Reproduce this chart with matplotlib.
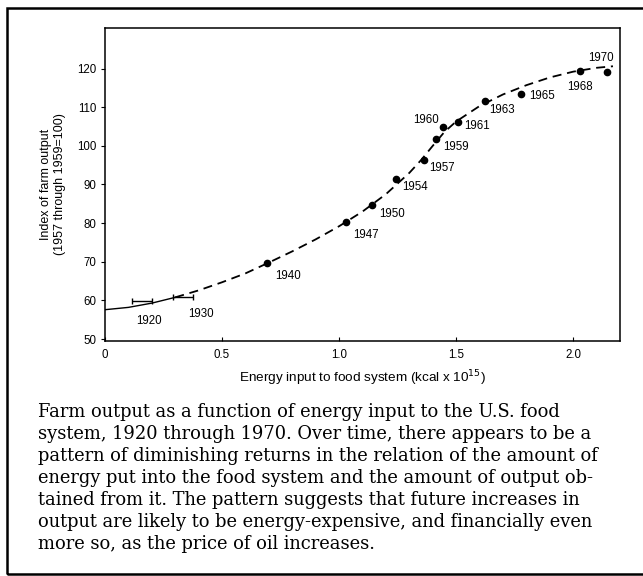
import matplotlib
matplotlib.use("Agg")
import matplotlib.pyplot as plt
from matplotlib.patches import Rectangle

# ---------------- data ----------------
years = ["1940", "1947", "1950", "1954", "1957", "1959", "1960", "1961",
         "1963", "1965", "1968", "1970"]
energy = [0.691, 1.03, 1.14, 1.245, 1.362, 1.413, 1.443, 1.51,
          1.624, 1.776, 2.03, 2.144]
output = [69.6, 80.4, 84.6, 91.4, 96.4, 101.8, 105.0, 106.3,
          111.5, 113.3, 119.3, 119.1]

range_years = ["1920", "1930"]
range_lo = [0.115, 0.289]
range_hi = [0.200, 0.375]
range_out = [59.8, 60.8]

curve_x = [0.0, 0.1, 0.2, 0.3, 0.4, 0.5, 0.6, 0.7, 0.8, 0.9, 1.0, 1.1, 1.2,
           1.3, 1.35, 1.4, 1.45, 1.5, 1.6, 1.7, 1.8, 1.9, 2.0, 2.1, 2.17]
curve_y = [57.6, 58.2, 59.3, 60.8, 62.6, 64.7, 67.0, 69.8, 72.7, 75.8, 79.2,
           83.0, 87.5, 93.0, 96.3, 100.0, 103.6, 106.3, 110.3, 113.3, 115.7,
           117.7, 119.2, 120.2, 120.6]
solid_end = 3  # curve drawn solid up to this point index

xticks = [0, 0.5, 1.0, 1.5, 2.0]
xticklabels = ["0", "0.5", "1.0", "1.5", "2.0"]
yticks = [50, 60, 70, 80, 90, 100, 110, 120]

caption = ["Farm output as a function of energy input to the U.S. food",
           "system, 1920 through 1970. Over time, there appears to be a",
           "pattern of diminishing returns in the relation of the amount of",
           "energy put into the food system and the amount of output ob-",
           "tained from it. The pattern suggests that future increases in",
           "output are likely to be energy-expensive, and financially even",
           "more so, as the price of oil increases."]

# label offsets in points (dx, dy, ha)
label_off = {
    "1940": (6, -9, "left"), "1947": (5, -10, "left"), "1950": (5, -6, "left"),
    "1954": (4, -6, "left"), "1957": (4, -6, "left"), "1959": (5, -6, "left"),
    "1960": (-3, 5, "right"), "1961": (4, -3, "left"), "1963": (3, -6, "left"),
    "1965": (6, -1, "left"), "1968": (0, -11, "center"), "1970": (-4, 10, "center"),
    "1920": (5, -14, "center"), "1930": (13, -12, "center"),
}

W, H = 643, 576
fig = plt.figure(figsize=(W / 100, H / 100), dpi=100)
sans = ["Liberation Sans", "DejaVu Sans"]
serif = ["DejaVu Serif", "Liberation Serif"]

# outer frame
fig.add_artist(Rectangle((7 / W, 1 - 574 / H), 660 / W, (574 - 8) / H,
                         transform=fig.transFigure, fill=False, lw=1.8,
                         edgecolor="black"))

ax = fig.add_axes([105 / W, 1 - 341 / H, (620 - 105) / W, (341 - 28) / H])
ax.set_xlim(0, 2.2)
ax.set_ylim(49.5, 130.5)

ax.plot(curve_x[:solid_end + 1], curve_y[:solid_end + 1], color="black", lw=1.0)
ax.plot(curve_x[solid_end:], curve_y[solid_end:], color="black", lw=1.3,
        dashes=(5, 3.2))
ax.plot(energy, output, "o", color="black", ms=4.5)

for lo, hi, y in zip(range_lo, range_hi, range_out):
    ax.errorbar([(lo + hi) / 2], [y], xerr=[[(hi - lo) / 2], [(hi - lo) / 2]],
                fmt="none", ecolor="black", elinewidth=1.0, capsize=2.5,
                capthick=1.0)

for yr, x, y in zip(years, energy, output):
    dx, dy, ha = label_off[yr]
    ax.annotate(yr, (x, y), xytext=(dx, dy), textcoords="offset points",
                ha=ha, va="center", fontsize=8.3, family=sans)
for yr, lo, hi, y in zip(range_years, range_lo, range_hi, range_out):
    dx, dy, ha = label_off[yr]
    ax.annotate(yr, ((lo + hi) / 2, y), xytext=(dx, dy), textcoords="offset points",
                ha=ha, va="center", fontsize=8.3, family=sans)

ax.set_xticks(xticks)
ax.set_xticklabels(xticklabels, family=sans, fontsize=8.3)
ax.set_yticks(yticks)
ax.set_yticklabels([str(v) for v in yticks], family=sans, fontsize=8.3)
ax.tick_params(axis="x", direction="in", length=3, width=0.8, pad=6)
ax.tick_params(axis="y", direction="out", length=3, width=0.8, pad=3)
for s in ax.spines.values():
    s.set_linewidth(1.1)

ax.set_xlabel("Energy input to food system (kcal x 10$^{15}$)", family=sans,
              fontsize=9.7, labelpad=5)
ax.set_ylabel("Index of farm output\n(1957 through 1959=100)", family=sans,
              fontsize=9, labelpad=8, linespacing=1.2)

# caption: fit the first line to the reference width (38 px to 562 px)
texts = []
for i, line in enumerate(caption):
    t = fig.text(38 / W, 1 - (412 + i * 22) / H, line, ha="left", va="center",
                 family=serif, fontsize=12)
    texts.append(t)
fig.canvas.draw()
r = fig.canvas.get_renderer()
w0 = texts[0].get_window_extent(r).width
scale = (562 - 38) / w0
for t in texts:
    t.set_fontsize(12 * scale)

fig.savefig("out.png", dpi=100)
